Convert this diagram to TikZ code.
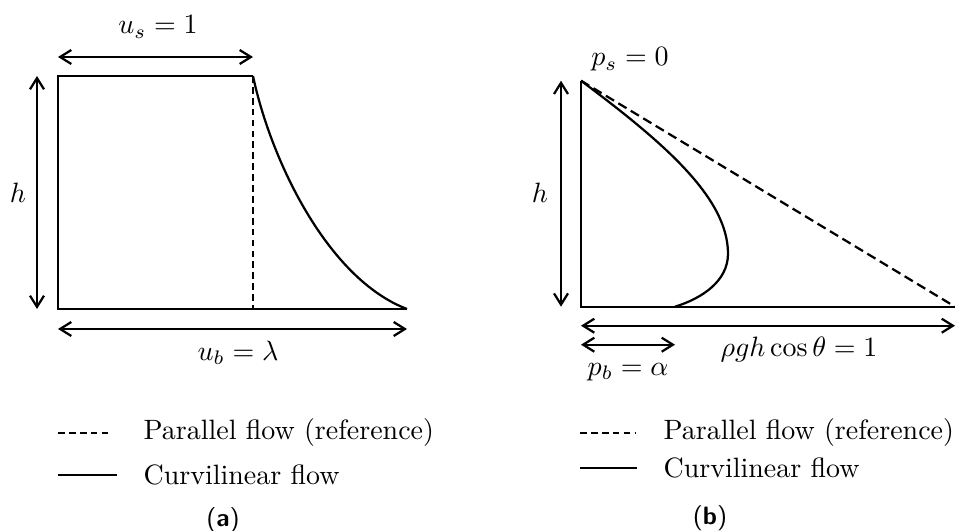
\documentclass[tikz,border=0pt]{standalone}
\usepackage{amsmath,amssymb}
\usetikzlibrary{calc}
\usetikzlibrary{arrows.meta}

\tikzset{
  >={Straight Barb[length=4pt,width=5pt]},
  flow/.style = {thick},
  refflow/.style = {thick, dash pattern=on 2.4pt off 1.5pt},
  dimarrow/.style = {thick,<->},
  legtext/.style = {anchor=west, inner sep=0pt},
  subcap/.style = {font=\small\sffamily},
}

\begin{document}
\begin{tikzpicture}[x = .12565cm, y = .12565cm]
  \useasboundingbox (-5.8,-22.1) rectangle (89.7,30.9);

  % (a) velocity profile: corner points first
  \coordinate (aBL) at (0,0);          % bottom-left
  \coordinate (aTL) at (0,23.3);       % top-left
  \coordinate (aTR) at (19.5,23.3);    % top-right (surface velocity)
  \coordinate (aBM) at (19.5,0);       % foot of reference profile
  \coordinate (aBR) at (34.9,0);       % bottom-right (basal velocity)

  % Profiles
  \draw[flow] (aBR)--(aBL)--(aTL)--(aTR);
  \draw[refflow] (aTR)--(aBM);
  \draw[flow] (aTR) .. controls (21.3,14.8) and (27,3) .. (aBR);

  % Dimension arrows and labels
  \coordinate (aUsL) at (0,25.2);
  \coordinate (aUsR) at (19.5,25.2);
  \draw[dimarrow] (aUsL)--(aUsR);
  \node (aUs) at (10,28.2) {$u_s = 1$};

  \coordinate (aHB) at (-2.1,0);
  \coordinate (aHT) at (-2.1,23.3);
  \draw[dimarrow] (aHB)--(aHT);
  \node (aH) at (-4.0,11.6) {$h$};

  \coordinate (aUbL) at (0,-2.0);
  \coordinate (aUbR) at (34.9,-2.0);
  \draw[dimarrow] (aUbL)--(aUbR);
  \node (aUb) at (18.0,-4.4) {$u_b = \lambda$};

  % Legend (a)
  \coordinate (aLegDa) at (0,-12.4);
  \coordinate (aLegDb) at (5.4,-12.4);
  \draw[refflow] (aLegDa)--(aLegDb);
  \node[legtext] (aLegD) at (8.5,-12.4) {Parallel flow (reference)};
  \coordinate (aLegSa) at (0,-16.6);
  \coordinate (aLegSb) at (5.9,-16.6);
  \draw[flow] (aLegSa)--(aLegSb);
  \node[legtext] (aLegS) at (8.5,-16.6) {Curvilinear flow};
  \node[subcap] (aCap) at (16.5,-21.1) {(\textbf{a})};

  % (b) pressure profile
  \begin{scope}[shift = {(52.3,0.23)}]
    \coordinate (bBL) at (0,0);        % bottom-left
    \coordinate (bTL) at (0,22.6);     % top-left (surface)
    \coordinate (bBR) at (37.4,0);     % bottom-right (hydrostatic)
    \coordinate (bPb) at (9.4,0);      % basal pressure
    \coordinate (bNose) at (14.7,5.3); % widest point of the profile

    % Profiles
    \draw[flow] (bBR)--(bBL)--(bTL);
    \draw[refflow, dash pattern=on 3.4pt off 1.8pt] (bTL)--(bBR);
    \draw[flow] (bTL) .. controls (8,16.6) and (14.7,11) .. (bNose)
                      .. controls (14.7,2.5) and (12,0.8) .. (bPb);

    % Dimension arrows and labels
    \node (bPs) at (4.9,24.7) {$p_s = 0$};

    \coordinate (bHB) at (-2.0,0);
    \coordinate (bHT) at (-2.0,22.6);
    \draw[dimarrow] (bHB)--(bHT);
    \node (bH) at (-4.1,11.4) {$h$};

    \coordinate (bRgL) at (0,-1.9);
    \coordinate (bRgR) at (37.4,-1.9);
    \draw[dimarrow] (bRgL)--(bRgR);
    \node (bRg) at (21.8,-4.3) {$\rho g h \cos\theta = 1$};

    \coordinate (bPbL) at (0,-3.8);
    \coordinate (bPbR) at (9.4,-3.8);
    \draw[dimarrow] (bPbL)--(bPbR);
    \node (bPbLab) at (4.7,-6.5) {$p_b = \alpha$};

    % Legend (b)
    \coordinate (bLegDa) at (-0.1,-12.6);
    \coordinate (bLegDb) at (5.4,-12.6);
    \draw[refflow] (bLegDa)--(bLegDb);
    \node[legtext] (bLegD) at (8.2,-12.6) {Parallel flow (reference)};
    \coordinate (bLegSa) at (-0.1,-16.1);
    \coordinate (bLegSb) at (5.6,-16.1);
    \draw[flow] (bLegSa)--(bLegSb);
    \node[legtext] (bLegS) at (8.2,-16.1) {Curvilinear flow};
    \node[subcap] (bCap) at (12.9,-21.1) {(\textbf{b})};
  \end{scope}
\end{tikzpicture}
\end{document}
